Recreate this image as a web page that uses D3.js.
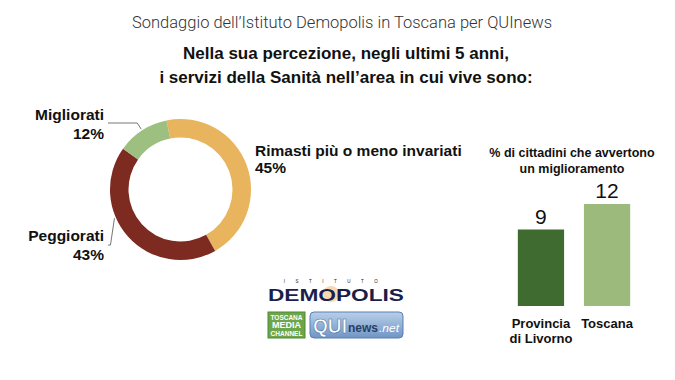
<!DOCTYPE html>
<html><head><meta charset="utf-8">
<script src="https://cdn.jsdelivr.net/npm/d3@7"></script>
<style>
html,body{margin:0;padding:0;background:#fff;}
svg{display:block;}
</style></head>
<body>
<svg id="chart" width="675" height="380"></svg>
<script>
const title = "Sondaggio dell\u2019Istituto Demopolis in Toscana per QUInews";
const subtitle = ["Nella sua percezione, negli ultimi 5 anni,", "i servizi della Sanità nell\u2019area in cui vive sono:"];
const pieCategories = ["Rimasti più o meno invariati", "Peggiorati", "Migliorati"];
const pieValues = [45, 43, 12];
const pieColors = ["#E8B55E", "#7D2A21", "#9DBF80"];
const barTitle = ["% di cittadini che avvertono", "un miglioramento"];
const barCategories = [["Provincia", "di Livorno"], ["Toscana"]];
const barValues = [9, 12];
const barColors = ["#3F6B31", "#9CBA7C"];

const svg = d3.select("#chart");
const sans = "'Liberation Sans', Arial, sans-serif";
const narrow = "'Liberation Sans Narrow', 'Liberation Sans', Arial, sans-serif";

svg.append("rect").attr("width", 675).attr("height", 380).attr("fill", "#fff");

svg.append("text").attr("x", 342).attr("y", 28).attr("text-anchor", "middle")
  .attr("font-family", "Roboto, sans-serif").attr("font-weight", 300).attr("font-size", 16.5)
  .attr("fill", "#333").text(title);
subtitle.forEach((s, i) => {
  svg.append("text").attr("x", 346).attr("y", 59 + i * 24).attr("text-anchor", "middle")
    .attr("font-family", sans).attr("font-weight", "bold").attr("font-size", 17)
    .attr("fill", "#111").text(s);
});

// Donut
const cx = 180.5, cy = 189.5;
const pie = d3.pie().sort(null).startAngle(-0.2).endAngle(2 * Math.PI - 0.2);
const arcs = pie(pieValues);
const arc = d3.arc().innerRadius(52).outerRadius(70.5);
const g = svg.append("g").attr("transform", `translate(${cx},${cy})`);
g.selectAll("path").data(arcs).join("path").attr("d", arc)
  .attr("fill", (d, i) => pieColors[i]);

// labels
const lab = svg.append("g").attr("font-family", sans).attr("font-weight", "bold")
  .attr("font-size", 15.5).attr("fill", "#111");
lab.append("text").attr("x", 255).attr("y", 156).text(pieCategories[0]);
lab.append("text").attr("x", 255).attr("y", 173).text(pieValues[0] + "%");
lab.append("text").attr("x", 104).attr("y", 241).attr("text-anchor", "end").text(pieCategories[1]);
lab.append("text").attr("x", 104).attr("y", 260).attr("text-anchor", "end").text(pieValues[1] + "%");
lab.append("text").attr("x", 104).attr("y", 120).attr("text-anchor", "end").text(pieCategories[2]);
lab.append("text").attr("x", 104).attr("y", 139).attr("text-anchor", "end").text(pieValues[2] + "%");

// leader lines
function edgePoint(a, r) { return [cx + r * Math.sin(a), cy - r * Math.cos(a)]; }
const gm = arcs[2], gp = arcs[1];
const pm = edgePoint((gm.startAngle + gm.endAngle) / 2, 72);
svg.append("path").attr("d", `M108,123 L${pm[0] - 4},123 L${pm[0]},${pm[1]}`)
  .attr("fill", "none").attr("stroke", "#777").attr("stroke-width", 1);
const pp = edgePoint(gp.startAngle + (gp.endAngle - gp.startAngle) * 0.62, 72);
svg.append("path").attr("d", `M108,245 L${pp[0] - 4},245 L${pp[0]},${pp[1]}`)
  .attr("fill", "none").attr("stroke", "#777").attr("stroke-width", 1);

// Bar chart
barTitle.forEach((s, i) => {
  svg.append("text").attr("x", 572).attr("y", 157 + i * 16).attr("text-anchor", "middle")
    .attr("font-family", narrow).attr("font-weight", "bold").attr("font-size", 12.5)
    .attr("fill", "#111").text(s);
});
const x = d3.scaleBand().domain(barValues.map((d, i) => i)).range([498, 650]).paddingInner(0.3).paddingOuter(0.3);
const y = d3.scaleLinear().domain([0, 12]).range([306, 204]);
svg.selectAll("rect.bar").data(barValues).join("rect").attr("class", "bar")
  .attr("x", (d, i) => x(i)).attr("width", x.bandwidth())
  .attr("y", d => y(d)).attr("height", d => y(0) - y(d))
  .attr("fill", (d, i) => barColors[i]);
svg.selectAll("text.val").data(barValues).join("text").attr("class", "val")
  .attr("x", (d, i) => x(i) + x.bandwidth() / 2).attr("y", d => y(d) - 6)
  .attr("text-anchor", "middle").attr("font-family", sans).attr("font-size", 21)
  .attr("fill", "#111").text(d => d);
barCategories.forEach((lines, i) => {
  lines.forEach((s, j) => {
    svg.append("text").attr("x", x(i) + x.bandwidth() / 2).attr("y", 328 + j * 15)
      .attr("text-anchor", "middle").attr("font-family", narrow).attr("font-weight", "bold")
      .attr("font-size", 13).attr("fill", "#111").text(s);
  });
});

// Logos (approximation)
const logo = svg.append("g");
logo.append("text").attr("x", 336).attr("y", 283).attr("text-anchor", "middle")
  .attr("font-family", sans).attr("font-size", 4.5).attr("letter-spacing", 10.5)
  .attr("fill", "#222").text("ISTITUTO");
logo.append("circle").attr("cx", 331).attr("cy", 294).attr("r", 8).attr("fill", "#F4C07A").attr("opacity", 0.6);
logo.append("text").attr("x", 336).attr("y", 301).attr("text-anchor", "middle")
  .attr("font-family", sans).attr("font-weight", "bold").attr("font-size", 17)
  .attr("textLength", 136).attr("lengthAdjust", "spacingAndGlyphs")
  .attr("fill", "#1B1E4B").text("DEMOPOLIS");
logo.append("rect").attr("x", 268).attr("y", 312).attr("width", 37).attr("height", 26).attr("fill", "#6DA64A").attr("stroke", "#4E8A33");
["TOSCANA", "MEDIA", "CHANNEL"].forEach((s, i) => {
  logo.append("text").attr("x", 286.5).attr("y", 320 + i * 8).attr("text-anchor", "middle")
    .attr("font-family", narrow).attr("font-weight", "bold").attr("font-size", i === 1 ? 9 : 6.5)
    .attr("fill", "#fff").text(s);
});
const defs = svg.append("defs");
const lg = defs.append("linearGradient").attr("id", "qg").attr("x1", 0).attr("y1", 0).attr("x2", 0).attr("y2", 1);
lg.append("stop").attr("offset", 0).attr("stop-color", "#B9CFE8");
lg.append("stop").attr("offset", 1).attr("stop-color", "#6F95C6");
logo.append("rect").attr("x", 310).attr("y", 312).attr("width", 93).attr("height", 26).attr("rx", 4)
  .attr("fill", "url(#qg)").attr("stroke", "#5B80B3");
logo.append("text").attr("x", 313).attr("y", 333).attr("font-family", sans).attr("font-weight", "bold")
  .attr("font-size", 20).attr("textLength", 34).attr("lengthAdjust", "spacingAndGlyphs")
  .attr("fill", "#fff").attr("stroke", "#4A6FA3").attr("stroke-width", 0.6).text("QUI");
logo.append("text").attr("x", 348).attr("y", 332).attr("font-family", sans).attr("font-weight", "bold")
  .attr("font-size", 12).attr("textLength", 30).attr("lengthAdjust", "spacingAndGlyphs")
  .attr("fill", "#2A3F66").text("news");
logo.append("text").attr("x", 379).attr("y", 332).attr("font-family", sans).attr("font-style", "italic")
  .attr("font-size", 10).attr("textLength", 20).attr("lengthAdjust", "spacingAndGlyphs")
  .attr("fill", "#fff").text(".net");
</script>
</body></html>
